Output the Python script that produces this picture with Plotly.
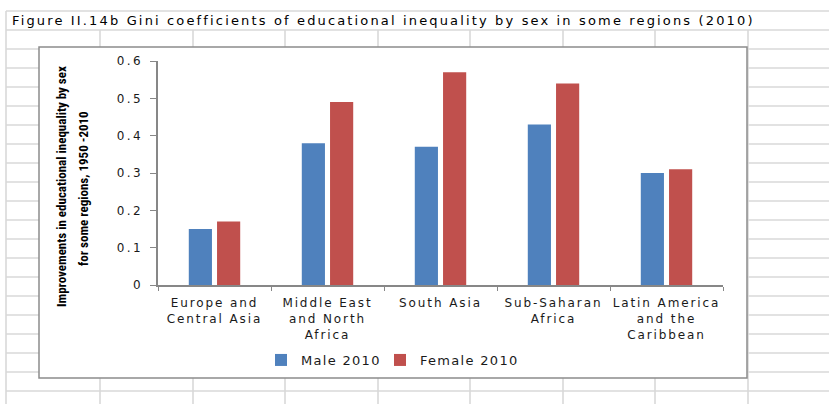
import plotly.graph_objects as go

# ---------------- data ----------------
categories = ["Europe and<br>Central Asia",
              "Middle East<br>and North<br>Africa",
              "South Asia",
              "Sub-Saharan<br>Africa",
              "Latin America<br>and the<br>Caribbean"]
male_2010 = [0.15, 0.38, 0.37, 0.43, 0.30]
female_2010 = [0.17, 0.49, 0.57, 0.54, 0.31]
series_names = ["Male 2010", "Female 2010"]
y_tick_values = [0, 0.1, 0.2, 0.3, 0.4, 0.5, 0.6]
y_tick_labels = ["0", "0.1", "0.2", "0.3", "0.4", "0.5", "0.6"]
title_text = "Figure II.14b Gini coefficients of educational inequality by sex in some regions (2010)"
y_title_lines = ["Improvements in educational inequality by sex",
                 "for some regions, 1950 -2010"]

# ---------------- layout geometry ----------------
W, H = 829, 404
L, R, T, B = 158, 106, 61, 119
PW, PH = W - L - R, H - T - B


def fx(px):
    return (px - L) / PW


def fy(py):
    return (H - B - py) / PH


def spaced(text, s):
    return "<br>".join('<span style="letter-spacing:%spx">%s</span>' % (s, t)
                       for t in text.split("<br>"))


FONT = "DejaVu Sans, Verdana, sans-serif"
NARROW = "Liberation Sans Narrow, Roboto Condensed, Liberation Sans, sans-serif"
BLUE = "#4F81BD"
RED = "#C0504D"
GRID = "#d9d9d9"
AXIS = "#878787"

fig = go.Figure()
fig.add_trace(go.Bar(x=categories, y=male_2010, name=spaced(series_names[0], 1.3),
                     marker=dict(color=BLUE, line=dict(width=0)), legend="legend"))
fig.add_trace(go.Bar(x=categories, y=female_2010, name=spaced(series_names[1], 1.3),
                     marker=dict(color=RED, line=dict(width=0)), legend="legend2"))

shapes = []
# spreadsheet grid
row_lines = [30 + 19 * k for k in range(20)]
for y in row_lines:
    shapes.append(dict(type="line", xref="paper", yref="paper", x0=fx(6), x1=fx(W + 5),
                       y0=fy(y), y1=fy(y), line=dict(color=GRID, width=1.6), layer="below"))
shapes.append(dict(type="line", xref="paper", yref="paper", x0=fx(6), x1=fx(W + 5),
                   y0=fy(11), y1=fy(11), line=dict(color=GRID, width=1.6), layer="below"))
shapes.append(dict(type="line", xref="paper", yref="paper", x0=fx(6), x1=fx(6),
                   y0=fy(11), y1=fy(H + 5), line=dict(color=GRID, width=1.6), layer="below"))
for x in [100, 193, 285, 378, 470, 563, 655, 748]:
    shapes.append(dict(type="line", xref="paper", yref="paper", x0=fx(x), x1=fx(x),
                       y0=fy(30), y1=fy(H + 5), line=dict(color=GRID, width=1.6), layer="below"))
# chart box
shapes.append(dict(type="rect", xref="paper", yref="paper", x0=fx(39), x1=fx(747),
                   y0=fy(378), y1=fy(47), fillcolor="white",
                   line=dict(color="#8c8c8c", width=1.5), layer="below"))

annotations = [
    dict(text=spaced(title_text, 2.15), xref="paper", yref="paper", x=fx(10), y=fy(20),
         xanchor="left", yanchor="middle", showarrow=False,
         font=dict(family=FONT, size=13, color="#000000")),
    dict(text="<b>" + y_title_lines[0] + "</b>", xref="paper", yref="paper",
         x=fx(61), y=fy(187), xanchor="center", yanchor="middle", textangle=-90,
         showarrow=False, font=dict(family=NARROW, size=13, color="#000000")),
    dict(text="<b>" + y_title_lines[1] + "</b>", xref="paper", yref="paper",
         x=fx(83), y=fy(189), xanchor="center", yanchor="middle", textangle=-90,
         showarrow=False, font=dict(family=NARROW, size=13, color="#000000")),
]

legend_style = dict(orientation="h", yanchor="middle", xanchor="left", y=fy(360),
                    bgcolor="rgba(0,0,0,0)", font=dict(family=FONT, size=13, color="#1a1a1a"))

fig.update_layout(
    width=W, height=H,
    margin=dict(l=L, r=R, t=T, b=B, pad=0),
    paper_bgcolor="white", plot_bgcolor="rgba(0,0,0,0)",
    barmode="group", bargap=0.5, bargroupgap=0.18,
    shapes=shapes, annotations=annotations,
    showlegend=True,
    legend=dict(x=fx(261), **legend_style),
    legend2=dict(x=fx(380), **legend_style),
    xaxis=dict(type="category", tickmode="array", tickvals=categories,
               ticktext=[spaced(c, 1.9) for c in categories], tickangle=0,
               tickson="boundaries", ticks="outside", ticklen=4, tickwidth=1,
               tickcolor=AXIS, showline=True, linecolor=AXIS, linewidth=2,
               showgrid=False, zeroline=False, range=[-0.5, 4.5],
               tickfont=dict(family=FONT, size=12, color="#1a1a1a"), ticklabelstandoff=6),
    yaxis=dict(range=[0, 0.6], tickmode="array", tickvals=y_tick_values,
               ticktext=[spaced(t, 2.3) for t in y_tick_labels],
               ticks="outside", ticklen=6, tickwidth=1, tickcolor=AXIS,
               showline=True, linecolor=AXIS, linewidth=1.5, showgrid=False, zeroline=False,
               tickfont=dict(family=FONT, size=12, color="#1a1a1a"), ticklabelstandoff=5),
)

fig.write_html("out.html", config={"displayModeBar": False},
               post_script="document.body.style.margin='0px';")
